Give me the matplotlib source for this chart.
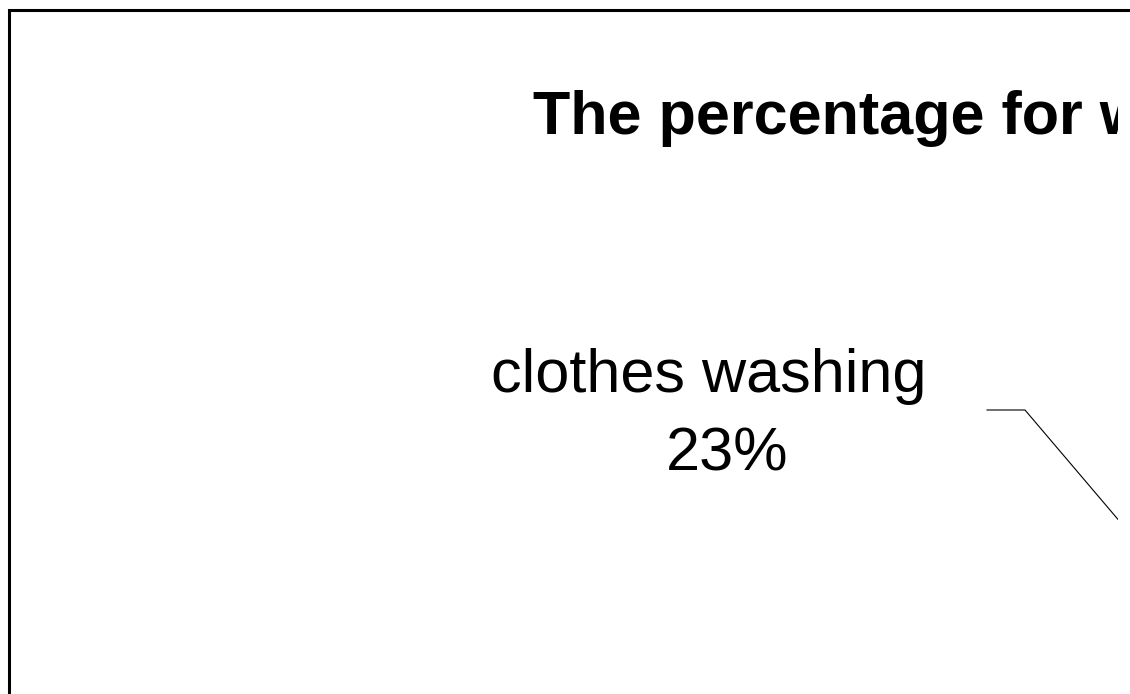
import numpy as np
import matplotlib
matplotlib.use("Agg")
import matplotlib.pyplot as plt
from matplotlib.lines import Line2D

plt.rcParams["font.family"] = ["Liberation Sans", "DejaVu Sans"]

# dados do grafico (a maior parte da pizza fica fora da area visivel)
titulo = "The percentage for water use"
categorias = ["clothes washing", "other uses"]
valores = [23, 77]

W, H = 1130, 694
fig = plt.figure(figsize=(W / 100, H / 100), dpi=100)

# area recortada em x = 1118 (como na imagem)
clip_x = 1118
ax = fig.add_axes([0, 0, clip_x / W, 1])

# pizza - centro e raio em pixels
centro = np.array([1297.0, 730.0])
raio = 150
cotovelo = np.array([1025.0, 410.0])  # ponto de quebra da linha guia
ang_alvo = np.degrees(np.arctan2(cotovelo[1] - centro[1], cotovelo[0] - centro[0]))
inicio = ang_alvo - valores[0] / sum(valores) * 360 / 2

fatias, _ = ax.pie(valores, center=tuple(centro), radius=raio, startangle=inicio,
                   colors=["#4f81bd", "#c0504d"], frame=True,
                   wedgeprops=dict(linewidth=0))
ax.set_xlim(0, clip_x)
ax.set_ylim(H, 0)
ax.set_aspect("auto")
ax.axis("off")

# rotulo com linha guia so da primeira fatia (as outras ficam fora da tela)
f = fatias[0]
meio = np.radians((f.theta1 + f.theta2) / 2)
borda = centro + raio * np.array([np.cos(meio), np.sin(meio)])
fim_horiz = cotovelo[0] - 38
ax.plot([fim_horiz, cotovelo[0], borda[0]], [cotovelo[1], cotovelo[1], borda[1]],
        color="black", linewidth=0.8)
pct = valores[0] / sum(valores) * 100
ax.text(709, 392, categorias[0], fontsize=44, ha="center", va="baseline", clip_on=True)
ax.text(727, 470, f"{pct:.0f}%", fontsize=44, ha="center", va="baseline", clip_on=True)

# titulo
ax.text(533, 134, titulo, fontsize=44, fontweight="bold", ha="left",
        va="baseline", clip_on=True)

# moldura (so a esquerda e o topo aparecem)
fig.add_artist(Line2D([8.5 / W, 8.5 / W, 1], [0, 1 - 10 / H, 1 - 10 / H],
                      transform=fig.transFigure, color="black", linewidth=2.2,
                      solid_joinstyle="miter"))

fig.savefig("out.png", dpi=100, facecolor="white")
